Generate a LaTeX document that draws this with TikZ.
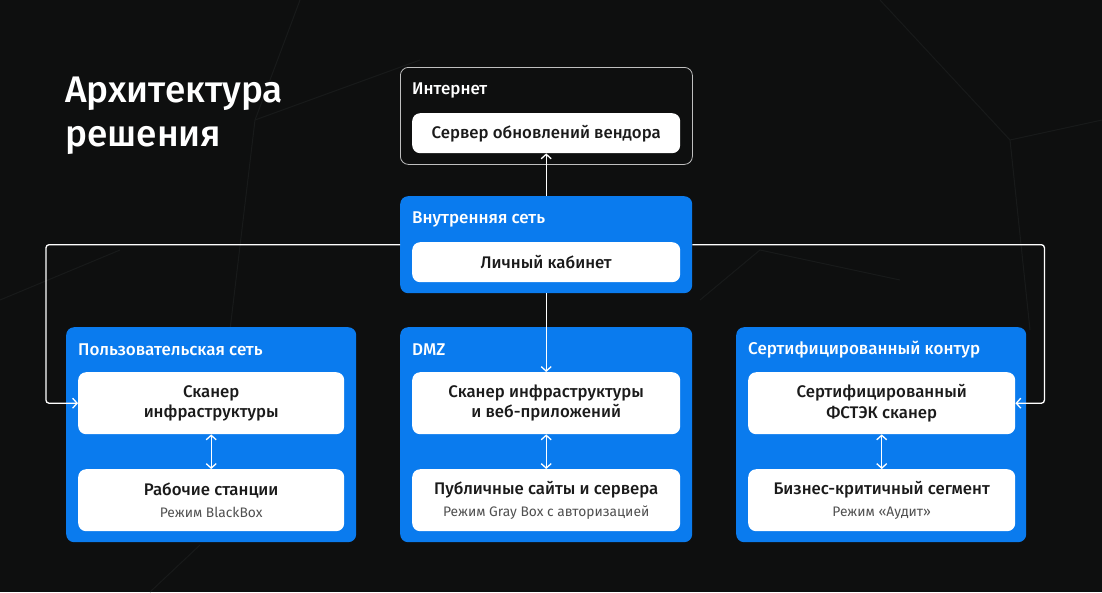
\documentclass[tikz,border=0pt]{standalone}
\usepackage{fontspec}
\setmainfont{Fira Sans}
\newfontfamily\medfont{Fira Sans Medium}
\usetikzlibrary{arrows.meta,calc}
\definecolor{bg}{HTML}{0E0F0F}
\definecolor{bblue}{HTML}{0A7BEE}
\definecolor{dtext}{HTML}{1A1A1A}
\definecolor{gtext}{HTML}{505050}
\definecolor{bgline}{HTML}{181A1A}
\newcommand{\subtx}[1]{{\rmfamily\fontsize{13.8}{16}\selectfont\color{gtext}#1}}
\tikzset{
  outerbox/.style={anchor=north west, rounded corners=8pt, inner sep=0pt},
  bluebox/.style={outerbox, fill=bblue},
  netbox/.style={outerbox, draw=white!75!black, line width=0.8pt, fill=bg},
  whitebox/.style={anchor=north west, rounded corners=8pt, fill=white, inner sep=0pt,
     align=center, text=dtext, font=\medfont\fontsize{16.8}{20.5}\selectfont},
  grouplabel/.style={anchor=west, text=white, inner sep=0pt, font=\medfont\fontsize{17}{19}\selectfont},
  conn/.style={draw=white, line width=1.3pt, -{Straight Barb[length=4.5pt,width=10pt,line width=1.3pt]}},
  dconn/.style={draw=white, line width=1.3pt, {Straight Barb[length=4.5pt,width=10pt,line width=1.3pt]}-{Straight Barb[length=4.5pt,width=10pt,line width=1.3pt]}},
}
\begin{document}
\begin{tikzpicture}[x=1pt,y=-1pt]
\fill[bg] (0,0) rectangle (1102,592);
\useasboundingbox (0,0) rectangle (1102,592);
% faint background lines
\begin{scope}[draw=bgline, line width=1pt]
\draw (300,0) -- (255,120) -- (230,330);
\draw (255,120) -- (420,60);
\draw (880,0) -- (1010,140) -- (1102,120);
\draw (1010,140) -- (1030,330);
\draw (0,300) -- (120,250);
\draw (700,300) -- (760,250) -- (900,280);
\draw (150,592) -- (200,545);
\end{scope}
% title
\node[anchor=north west, text=white, align=left, inner sep=0pt,
      font=\medfont\fontsize{37}{44}\selectfont] (title) at (65,77) {Архитектура\\решения};
% Internet
\node[netbox, minimum width=292pt, minimum height=97pt] (inet) at (400,67) {};
\node[grouplabel] (inetl) at (412,90) {Интернет};
\node[whitebox, minimum width=268pt, minimum height=40pt] (srv) at (412,113) {Сервер обновлений вендора};
% Internal
\node[bluebox, minimum width=292pt, minimum height=97pt] (inner) at (400,196) {};
\node[grouplabel] (innerl) at (412,219) {Внутренняя сеть};
\node[whitebox, minimum width=268pt, minimum height=40pt] (cab) at (412,242) {Личный кабинет};
% Left
\node[bluebox, minimum width=290pt, minimum height=215pt] (left) at (66,327) {};
\node[grouplabel] (leftl) at (78,350) {Пользовательская сеть};
\node[whitebox, minimum width=266pt, minimum height=62pt] (ls1) at (78,372) {Сканер\\инфраструктуры};
\node[whitebox, minimum width=266pt, minimum height=62pt] (ls2) at (78,469) {Рабочие станции\\[1pt]\subtx{Режим BlackBox}};
% Middle
\node[bluebox, minimum width=292pt, minimum height=215pt] (mid) at (400,327) {};
\node[grouplabel] (midl) at (412,350) {DMZ};
\node[whitebox, minimum width=268pt, minimum height=62pt] (ms1) at (412,372) {Сканер инфраструктуры\\и веб-приложений};
\node[whitebox, minimum width=268pt, minimum height=62pt] (ms2) at (412,469) {Публичные сайты и сервера\\[1pt]\subtx{Режим Gray Box с авторизацией}};
% Right
\node[bluebox, minimum width=290pt, minimum height=215pt] (right) at (736,327) {};
\node[grouplabel] (rightl) at (748,350) {Сертифицированный контур};
\node[whitebox, minimum width=267pt, minimum height=62pt] (rs1) at (748,372) {Сертифицированный\\ФСТЭК сканер};
\node[whitebox, minimum width=267pt, minimum height=62pt] (rs2) at (748,469) {Бизнес-критичный сегмент\\[1pt]\subtx{Режим «Аудит»}};
% connectors
\draw[conn] (inner.north) -- (srv.south);
\draw[conn] (inner.south) -- (ms1.north);
\draw[conn, rounded corners=3pt] (inner.west) -| ($(ls1.west)+(-32,0)$) -- (ls1.west);
\draw[conn, rounded corners=3pt] (inner.east) -| ($(rs1.east)+(29,0)$) -- (rs1.east);
\draw[dconn] (ls1.south) -- (ls2.north);
\draw[dconn] (ms1.south) -- (ms2.north);
\draw[dconn] (rs1.south) -- (rs2.north);
\end{tikzpicture}
\end{document}
